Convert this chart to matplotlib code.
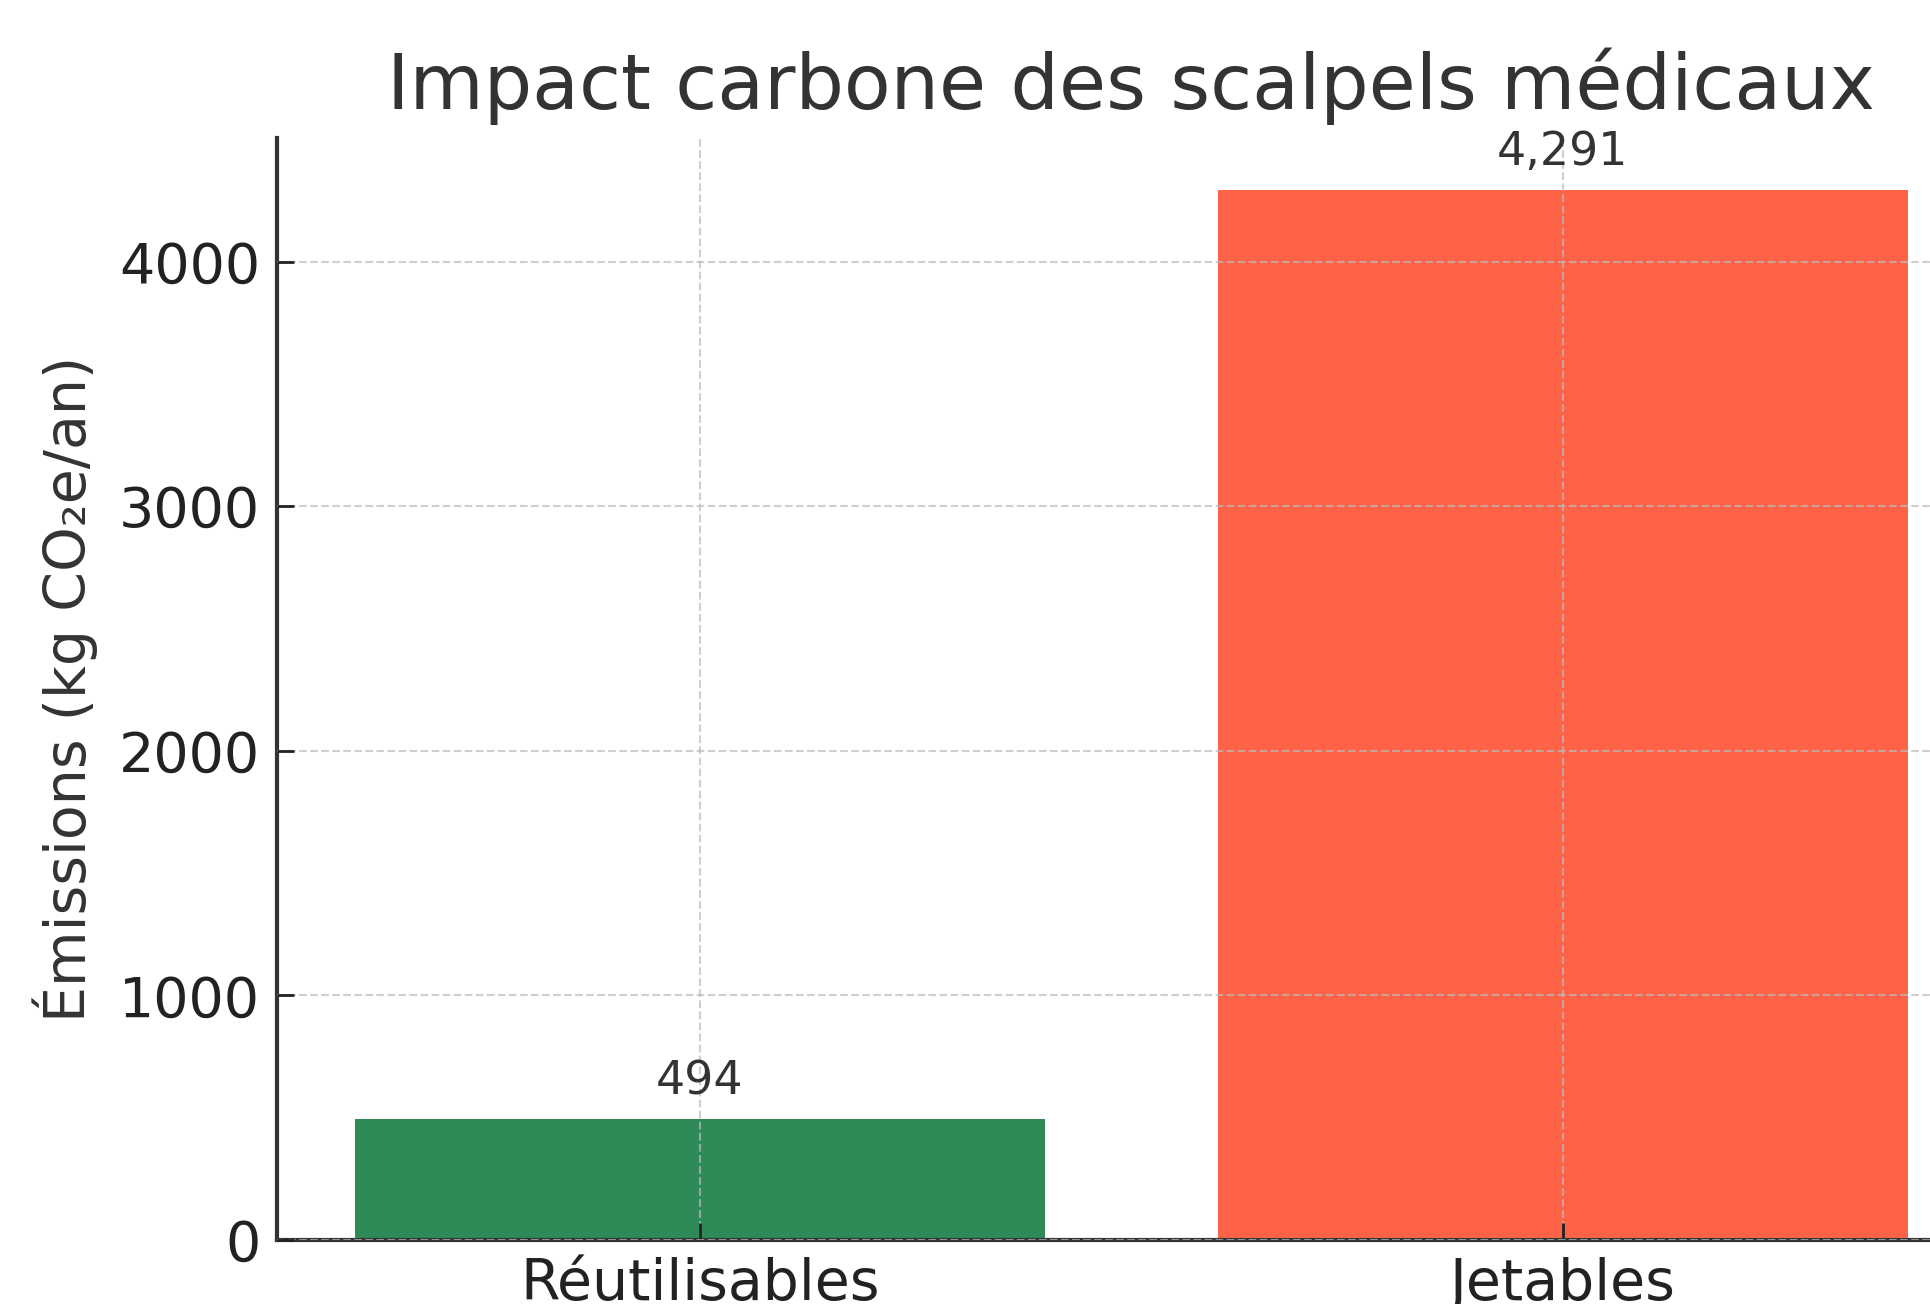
import matplotlib.pyplot as plt

# Données du graphique
categories = ["Réutilisables", "Jetables"]
emissions = [494, 4291]
couleurs = ["#2E8B57", "#FF6347"]
yticks = [0, 1000, 2000, 3000, 4000]

plt.rcParams['font.family'] = ['DejaVu Sans']

fig = plt.figure(figsize=(19.31, 13.04), dpi=100)
ax = fig.add_axes([0.1434, 0.0491, 0.885, 0.845])

barres = ax.bar(categories, emissions, color=couleurs, width=0.8, zorder=2)

# Valeurs au-dessus des barres
for b, v in zip(barres, emissions):
    ax.annotate(f"{v:,}", (b.get_x() + b.get_width() / 2, v),
                xytext=(0, 18), textcoords="offset points",
                ha="center", va="baseline", fontsize=33, color="#333333")

ax.set_xlim(-0.49, 1.49)
ax.set_ylim(0, 4505)
ax.set_yticks(yticks)

ax.set_title("Impact carbone des scalpels médicaux", fontsize=55,
             color="#333333", pad=21)
ax.set_ylabel("Émissions (kg CO₂e/an)", fontsize=41, color="#333333", labelpad=15)

ax.tick_params(axis="both", direction="in", length=12, width=2,
               labelsize=40, colors="#222222", pad=12)
ax.tick_params(axis="x", labelsize=41)
ax.grid(True, linestyle="--", color="#bbbbbb", alpha=0.7, linewidth=1.5, zorder=3)
ax.set_axisbelow(False)

for s in ["top", "right"]:
    ax.spines[s].set_visible(False)
for s in ["left", "bottom"]:
    ax.spines[s].set_linewidth(3)
    ax.spines[s].set_color("#333333")

fig.savefig("out.png", dpi=100)
